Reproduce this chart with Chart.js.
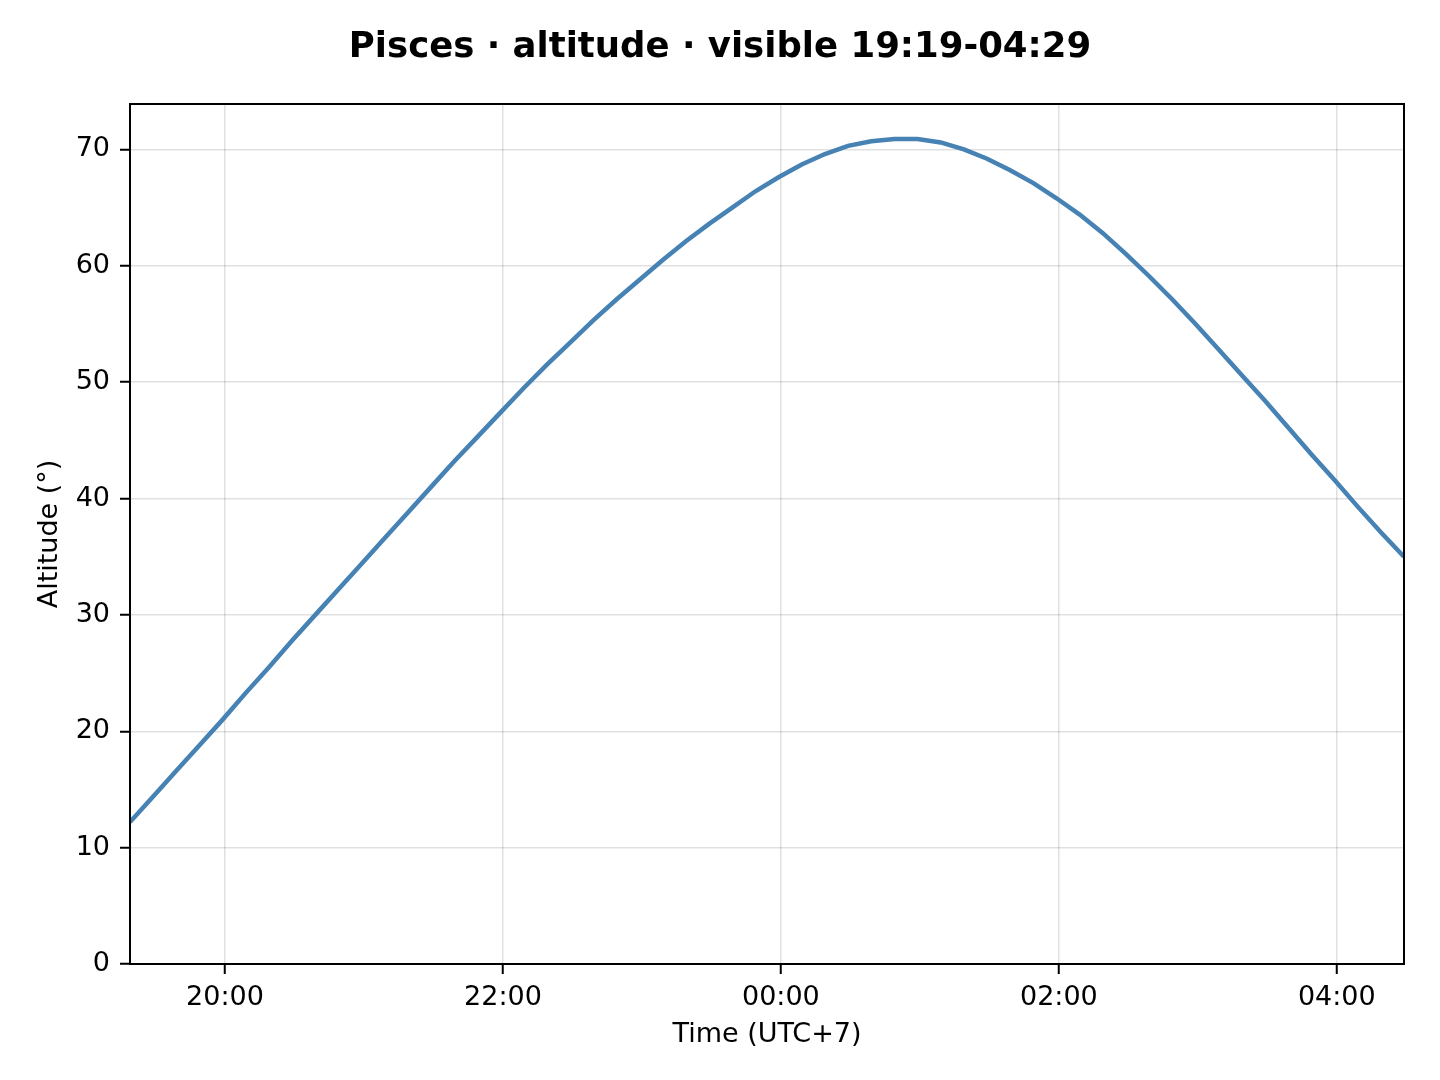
<!DOCTYPE html>
<html>
<head>
<meta charset="utf-8">
<script src="https://cdn.jsdelivr.net/npm/chart.js@4.4.0/dist/chart.umd.min.js"></script>
<style>
  html, body { margin: 0; padding: 0; background: #fff; }
  #wrap { width: 1440px; height: 1080px; }
</style>
</head>
<body>
<div id="wrap"><canvas id="altChart" width="1440" height="1080"></canvas></div>
<script>
// sample times (UTC+7), every 10 minutes across the visible window
const sampleTimes = [
  "19:19", "19:29", "19:39", "19:49", "19:59", "20:09", "20:19", "20:29",
  "20:39", "20:49", "20:59", "21:09", "21:19", "21:29", "21:39", "21:49",
  "21:59", "22:09", "22:19", "22:29", "22:39", "22:49", "22:59", "23:09",
  "23:19", "23:29", "23:39", "23:49", "23:59", "00:09", "00:19", "00:29",
  "00:39", "00:49", "00:59", "01:09", "01:19", "01:29", "01:39", "01:49",
  "01:59", "02:09", "02:19", "02:29", "02:39", "02:49", "02:59", "03:09",
  "03:19", "03:29", "03:39", "03:49", "03:59", "04:09", "04:19", "04:29",
];
// altitude in degrees
const altitudes = [
  12.2, 14.4, 16.6, 18.8, 21.0, 23.3, 25.5, 27.8,
  30.0, 32.2, 34.4, 36.6, 38.8, 41.0, 43.2, 45.3,
  47.4, 49.5, 51.5, 53.4, 55.3, 57.1, 58.8, 60.5,
  62.1, 63.6, 65.0, 66.4, 67.6, 68.7, 69.6, 70.3,
  70.7, 70.9, 70.9, 70.6, 70.0, 69.2, 68.2, 67.1,
  65.8, 64.4, 62.8, 61.0, 59.1, 57.1, 55.0, 52.8,
  50.6, 48.4, 46.1, 43.8, 41.6, 39.3, 37.1, 35.0,
];
const xTickTimes = ["20:00", "22:00", "00:00", "02:00", "04:00"];
const yTickValues = [0, 10, 20, 30, 40, 50, 60, 70];
const windowStart = "19:19";
const windowEnd = "04:29";
const yMax = 73.9;

// minutes since 19:00, wrapping past midnight
function toMinutes(s) {
  const [h, m] = s.split(":").map(Number);
  let mins = h * 60 + m - 19 * 60;
  if (mins < 0) mins += 24 * 60;
  return mins;
}
function toClock(mins) {
  const total = (mins + 19 * 60) % (24 * 60);
  const h = Math.floor(total / 60), m = Math.round(total % 60);
  return String(h).padStart(2, "0") + ":" + String(m).padStart(2, "0");
}

const points = sampleTimes.map((t, i) => ({ x: toMinutes(t), y: altitudes[i] }));

const FONT = "'DejaVu Sans', 'Liberation Sans', sans-serif";
const titleText = "Pisces · altitude · visible " + windowStart + "-" + windowEnd;

// axes box + figure title centred on the whole canvas
const framePlugin = {
  id: "frame",
  afterDatasetsDraw(chart) {
    const { ctx, chartArea: a } = chart;
    ctx.save();
    ctx.strokeStyle = "#000";
    ctx.lineWidth = 2;
    ctx.strokeRect(a.left, a.top, a.right - a.left, a.bottom - a.top);
    ctx.restore();
  },
  afterDraw(chart) {
    const { ctx } = chart;
    ctx.save();
    ctx.fillStyle = "#000";
    ctx.font = "bold 35.5px " + FONT;
    ctx.textAlign = "center";
    ctx.textBaseline = "middle";
    ctx.fillText(titleText, chart.width / 2, 48);
    ctx.restore();
  },
};

const ctx = document.getElementById("altChart").getContext("2d");
const chart = new Chart(ctx, {
  type: "line",
  data: {
    datasets: [
      {
        data: points,
        borderColor: "#4682b4",
        borderWidth: 4.5,
        pointRadius: 0,
        tension: 0,
        fill: false,
      },
    ],
  },
  options: {
    responsive: false,
    animation: false,
    devicePixelRatio: 1,
    layout: { padding: { left: 0, right: 36, top: 104, bottom: 0 } },
    plugins: {
      legend: { display: false },
      tooltip: { enabled: false },
      title: { display: false },
    },
    scales: {
      x: {
        type: "linear",
        min: toMinutes(windowStart),
        max: toMinutes(windowEnd),
        afterBuildTicks: (scale) => {
          scale.ticks = xTickTimes.map((t) => ({ value: toMinutes(t) }));
        },
        afterFit: (scale) => { scale.height = 116; },
        ticks: {
          color: "#000",
          font: { family: FONT, size: 27 },
          padding: 8,
          maxRotation: 0,
          callback: (v) => toClock(v),
        },
        grid: {
          color: "rgba(0,0,0,0.12)",
          lineWidth: 1.5,
          tickColor: "#000",
          tickLength: 10,
          tickWidth: 2,
        },
        border: { display: false },
        title: {
          display: true,
          text: "Time (UTC+7)",
          color: "#000",
          font: { family: FONT, size: 27 },
          padding: { top: 29, bottom: 29 },
        },
      },
      y: {
        min: 0,
        max: yMax,
        afterBuildTicks: (scale) => {
          scale.ticks = yTickValues.map((v) => ({ value: v }));
        },
        afterFit: (scale) => { scale.width = 130; },
        ticks: {
          color: "#000",
          font: { family: FONT, size: 27 },
          padding: 10,
        },
        grid: {
          color: "rgba(0,0,0,0.12)",
          lineWidth: 1.5,
          tickColor: "#000",
          tickLength: 10,
          tickWidth: 2,
        },
        border: { display: false },
        title: {
          display: true,
          text: "Altitude (°)",
          color: "#000",
          font: { family: FONT, size: 27 },
          padding: { top: 34, bottom: 34 },
        },
      },
    },
  },
  plugins: [framePlugin],
});
</script>
</body>
</html>
